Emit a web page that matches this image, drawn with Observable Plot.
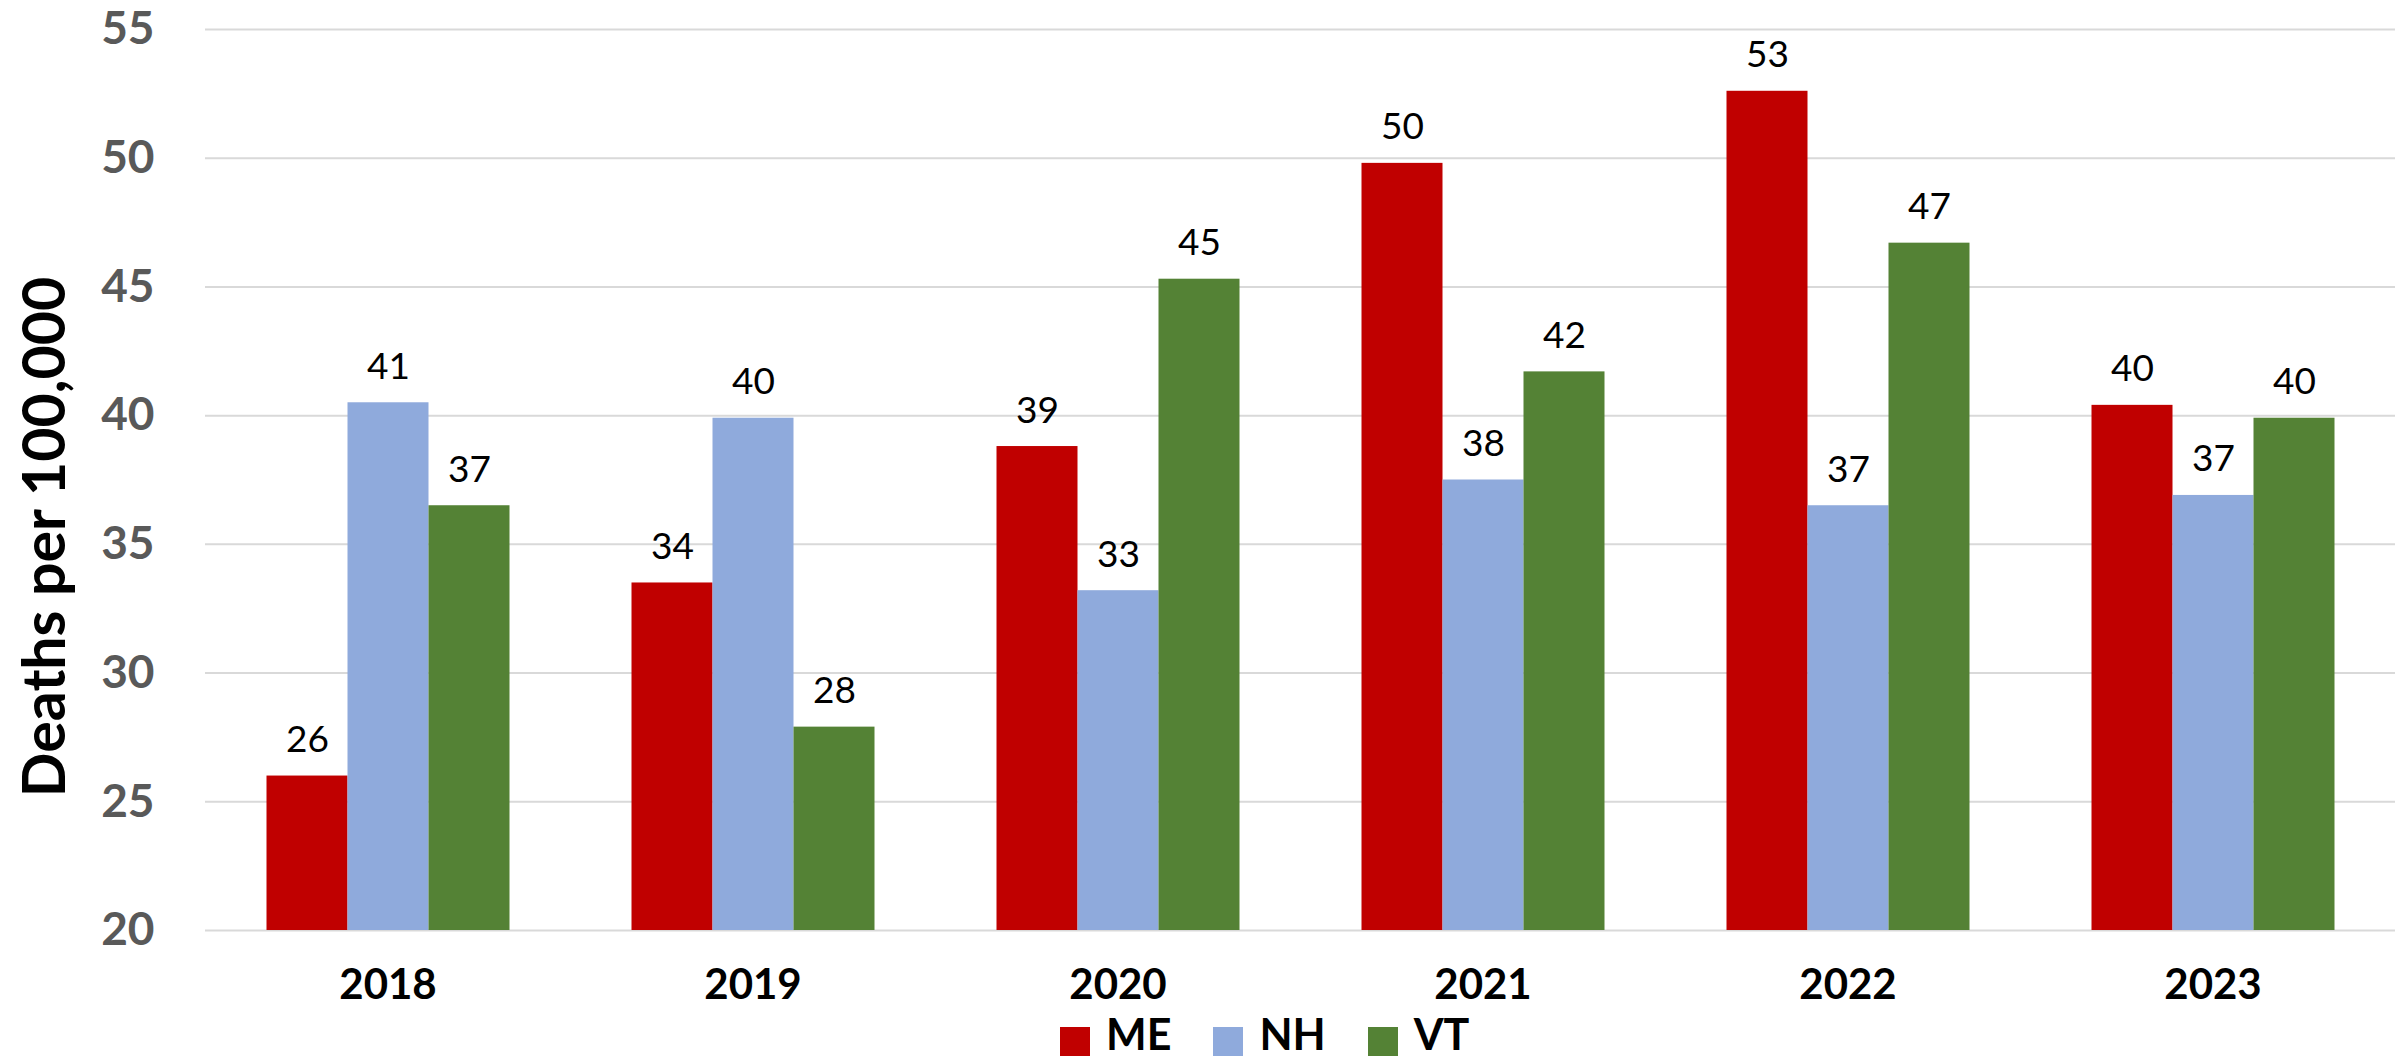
<!DOCTYPE html>
<html>
<head>
<meta charset="utf-8">
<script src="https://cdn.jsdelivr.net/npm/d3@7"></script>
<script src="https://cdn.jsdelivr.net/npm/@observablehq/plot@0.6"></script>
<style>
  html, body { margin: 0; padding: 0; background: #fff; overflow: hidden; }
  #wrap { position: relative; width: 2407px; height: 1060px; }
  #chart svg { display: block; }
  #ytitle { position: absolute; left: 42px; top: 537px; transform: translate(-50%, -50%) rotate(-90deg);
            white-space: nowrap; font: bold 59px Lato, sans-serif; line-height: 1; color: #000; }
  #legend { position: absolute; top: 1014px; left: 1060px; display: flex; align-items: flex-start;
            font: bold 43px Lato, sans-serif; color: #000; }
  .item { display: flex; align-items: flex-start; margin-right: 42px; }
  .sw { width: 30px; height: 29px; margin-top: 13px; margin-right: 16px; }
  .lab { display: block; line-height: 40px; height: 40px; }
</style>
</head>
<body>
<div id="wrap">
  <div id="chart"></div>
  <div id="ytitle"></div>
  <div id="legend"></div>
</div>
<script>
const years = ["2018", "2019", "2020", "2021", "2022", "2023"];
const states = ["ME", "NH", "VT"];
const colors = ["#C00000", "#8FAADC", "#548235"];
const meValues = [26.0, 33.5, 38.8, 49.8, 52.6, 40.4];
const nhValues = [40.5, 39.9, 33.2, 37.5, 36.5, 36.9];
const vtValues = [36.5, 27.9, 45.3, 41.7, 46.7, 39.9];
const yTicks = [20, 25, 30, 35, 40, 45, 50, 55];
const yTitle = "Deaths per 100,000";

const series = {ME: meValues, NH: nhValues, VT: vtValues};
const data = [];
years.forEach((year, i) => states.forEach(state => data.push({year, state, value: series[state][i]})));
const yMin = yTicks[0];
const yMax = yTicks[yTicks.length - 1];

function build(superMode) {
  const grid = superMode
    ? Plot.ruleY(yTicks, {stroke: "#d9d9d9", strokeWidth: 2, facet: "super"})
    : Plot.ruleY(yTicks, {stroke: "#d9d9d9", strokeWidth: 2, insetLeft: -61, insetRight: -61});
  return Plot.plot({
    width: 2407,
    height: 1012,
    marginLeft: 202.5,
    marginRight: 8.5,
    marginTop: 29,
    marginBottom: 82,
    style: {fontFamily: "Lato, sans-serif", background: "#fff", color: "#000"},
    fx: {domain: years, paddingInner: 0.333, paddingOuter: 0.1667, label: null},
    x: {domain: states, padding: 0, axis: null},
    y: {domain: [yMin, yMax], label: null},
    color: {domain: states, range: colors},
    marks: [
      grid,
      Plot.axisY({ticks: yTicks, tickSize: 0, tickPadding: 112, fontSize: 46, fontWeight: "bold",
                  color: "#595959", label: null}),
      Plot.axisFx({anchor: "bottom", tickSize: 0, tickPadding: 39, fontSize: 42, fontWeight: "bold",
                   color: "#000", label: null}),
      Plot.barY(data, {fx: "year", x: "state", y1: yMin, y2: "value", fill: "state"}),
      Plot.text(data, {fx: "year", x: "state", y: "value", text: d => String(Math.round(d.value)),
                       lineAnchor: "bottom", dy: -24, fontSize: 37, fill: "#000"})
    ]
  });
}

let chart;
try { chart = build(true); } catch (e) { chart = build(false); }
document.getElementById("chart").appendChild(chart);

document.getElementById("ytitle").textContent = yTitle;
const legend = document.getElementById("legend");
states.forEach((s, i) => {
  const item = document.createElement("div");
  item.className = "item";
  const sw = document.createElement("div");
  sw.className = "sw";
  sw.style.background = colors[i];
  const t = document.createElement("div");
  t.className = "lab";
  t.textContent = s;
  item.appendChild(sw);
  item.appendChild(t);
  legend.appendChild(item);
});
</script>
</body>
</html>
